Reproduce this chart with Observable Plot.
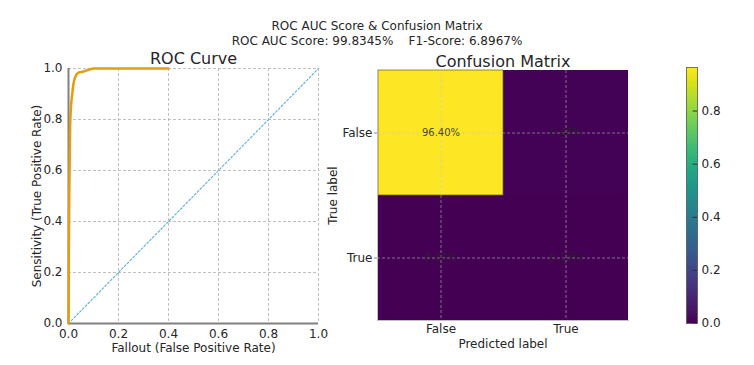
<!DOCTYPE html>
<html>
<head>
<meta charset="utf-8">
<script src="https://cdn.jsdelivr.net/npm/d3@7"></script>
<script src="https://cdn.jsdelivr.net/npm/@observablehq/plot@0.6"></script>
<style>
  html, body { margin: 0; padding: 0; background: #fff; }
  #wrap { position: relative; width: 754px; height: 365px; overflow: hidden; font-family: "DejaVu Sans", sans-serif; }
  #wrap > .layer { position: absolute; left: 0; top: 0; }
  .ttl { position: absolute; left: 0; width: 754px; text-align: center; font-size: 12px; color: #262626; white-space: pre; line-height: 14px; }
</style>
</head>
<body>
<div id="wrap">
  <div class="ttl" style="top:19px">ROC AUC Score &amp; Confusion Matrix</div>
  <div class="ttl" style="top:34px">ROC AUC Score: 99.8345%    F1-Score: 6.8967%</div>
</div>
<script>
// ---- data ----
const rocTitle = "ROC Curve";
const cmTitle = "Confusion Matrix";
const rocFpr = [0, 0.001, 0.003, 0.006, 0.010, 0.015, 0.020, 0.028, 0.040, 0.060, 0.080, 0.100, 0.400];
const rocTpr = [0, 0.200, 0.500, 0.750, 0.850, 0.900, 0.940, 0.970, 0.984, 0.988, 0.995, 1.000, 1.000];
const diagX = [0, 1];
const diagY = [0, 1];
const axisTicks = [0, 0.2, 0.4, 0.6, 0.8, 1.0];
const cmLabels = ["False", "True"];
const cmActual = ["False", "False", "True", "True"];
const cmPredicted = ["False", "True", "False", "True"];
const cmValues = [0.9640, 0.0046, 0.0000, 0.0013];
const cbarTicks = [0, 0.2, 0.4, 0.6, 0.8];

const roc = rocFpr.map((x, i) => ({x, y: rocTpr[i]}));
const diag = diagX.map((x, i) => ({x, y: diagY[i]}));
const cm = cmValues.map((v, i) => ({actual: cmActual[i], pred: cmPredicted[i], value: v}));
const vmax = d3.max(cmValues);

const W = 754, H = 365;
const font = "DejaVu Sans, sans-serif";
const wrap = document.getElementById("wrap");
function add(svg) { svg.classList.add("layer"); wrap.appendChild(svg); }

// ---- ROC curve ----
add(Plot.plot({
  width: W, height: H,
  marginLeft: 68, marginRight: W - 318, marginTop: 68, marginBottom: 42,
  style: {fontFamily: font, fontSize: "12px", color: "#262626", background: "transparent"},
  x: {domain: [0, 1]},
  y: {domain: [0, 1]},
  marks: [
    Plot.gridX(axisTicks, {stroke: "#b0b0b0", strokeOpacity: 1, strokeDasharray: "3,2", strokeWidth: 0.8}),
    Plot.gridY(axisTicks, {stroke: "#b0b0b0", strokeOpacity: 1, strokeDasharray: "3,2", strokeWidth: 0.8}),
    Plot.ruleX([0], {stroke: "#808080", strokeWidth: 2}),
    Plot.ruleY([0], {stroke: "#808080", strokeWidth: 2}),
    Plot.line(diag, {x: "x", y: "y", stroke: "#5aaee0", strokeWidth: 1.1, strokeDasharray: "2,2"}),
    Plot.line(roc, {x: "x", y: "y", stroke: "#e69c0c", strokeWidth: 2.5, curve: "monotone-x"}),
    Plot.axisX(axisTicks, {tickSize: 0, tickPadding: 6, tickFormat: d3.format(".1f"), label: null, fontSize: 12}),
    Plot.axisY(axisTicks, {tickSize: 0, tickPadding: 6, tickFormat: d3.format(".1f"), label: null, fontSize: 12}),
    Plot.text(["Sensitivity (True Positive Rate)"], {frameAnchor: "left", textAnchor: "middle", lineAnchor: "middle", dx: -31, rotate: -90, fontSize: 12, fill: "#262626"}),
    Plot.text(["Fallout (False Positive Rate)"], {frameAnchor: "bottom", lineAnchor: "middle", dy: 25, fontSize: 12, fill: "#262626"}),
    Plot.text([rocTitle], {frameAnchor: "top", lineAnchor: "bottom", dy: -5, fontSize: 16, fill: "#262626"})
  ]
}));

// ---- Confusion matrix ----
add(Plot.plot({
  width: W, height: H,
  marginLeft: 377, marginRight: W - 628, marginTop: 70, marginBottom: 45,
  style: {fontFamily: font, fontSize: "12px", color: "#262626", background: "transparent"},
  x: {type: "band", domain: cmLabels, padding: 0},
  y: {type: "band", domain: cmLabels, padding: 0},
  color: {type: "linear", scheme: "viridis", domain: [0, vmax]},
  marks: [
    Plot.cell(cm, {x: "pred", y: "actual", fill: "value"}),
    Plot.cell(cm.filter(d => d.value > 0.5), {x: "pred", y: "actual", fill: "none", stroke: "#6b5e1e", strokeOpacity: 0.7, strokeWidth: 1}),
    Plot.frame({anchor: "left", stroke: "#c0c0c0", strokeWidth: 1}),
    Plot.frame({anchor: "bottom", stroke: "#c0c0c0", strokeWidth: 1}),
    Plot.gridX(cmLabels, {stroke: "#c8c8c8", strokeOpacity: 0.6, strokeDasharray: "3,2", strokeWidth: 0.9}),
    Plot.gridY(cmLabels, {stroke: "#c8c8c8", strokeOpacity: 0.6, strokeDasharray: "3,2", strokeWidth: 0.9}),
    Plot.text(cm, {x: "pred", y: "actual", text: d => (d.value * 100).toFixed(2) + "%", fill: "#262626", fillOpacity: 0.85, fontSize: 10}),
    Plot.axisX(cmLabels, {tickSize: 0, tickPadding: 4, label: null, fontSize: 12}),
    Plot.axisY(cmLabels, {tickSize: 3, tickPadding: 2, label: null, fontSize: 12, stroke: "#888"}),
    Plot.text(["True label"], {frameAnchor: "left", textAnchor: "middle", lineAnchor: "middle", dx: -44, rotate: -90, fontSize: 12, fill: "#262626"}),
    Plot.text(["Predicted label"], {frameAnchor: "bottom", lineAnchor: "middle", dy: 24, fontSize: 12, fill: "#262626"}),
    Plot.text([cmTitle], {frameAnchor: "top", lineAnchor: "bottom", dy: -4, fontSize: 16, fill: "#262626"})
  ]
}));

// ---- Colorbar ----
add(Plot.plot({
  width: W, height: H,
  marginLeft: 686, marginRight: W - 697, marginTop: 67, marginBottom: H - 323,
  style: {fontFamily: font, fontSize: "12px", color: "#262626", background: "transparent"},
  x: {domain: [0, 1], axis: null},
  y: {domain: [0, vmax]},
  color: {type: "linear", scheme: "viridis", domain: [0, vmax]},
  marks: [
    Plot.raster({x1: 0, x2: 1, y1: 0, y2: vmax, width: 1, height: 256, fill: (x, y) => y, imageRendering: "auto"}),
    Plot.ruleY(cbarTicks, {x1: 0.6, x2: 1, stroke: "#333", strokeWidth: 1}),
    Plot.frame({stroke: "#555", strokeWidth: 0.8}),
    Plot.axisY(cbarTicks, {anchor: "right", tickSize: 0, tickPadding: 4, tickFormat: d3.format(".1f"), label: null, fontSize: 12})
  ]
}));
</script>
</body>
</html>
